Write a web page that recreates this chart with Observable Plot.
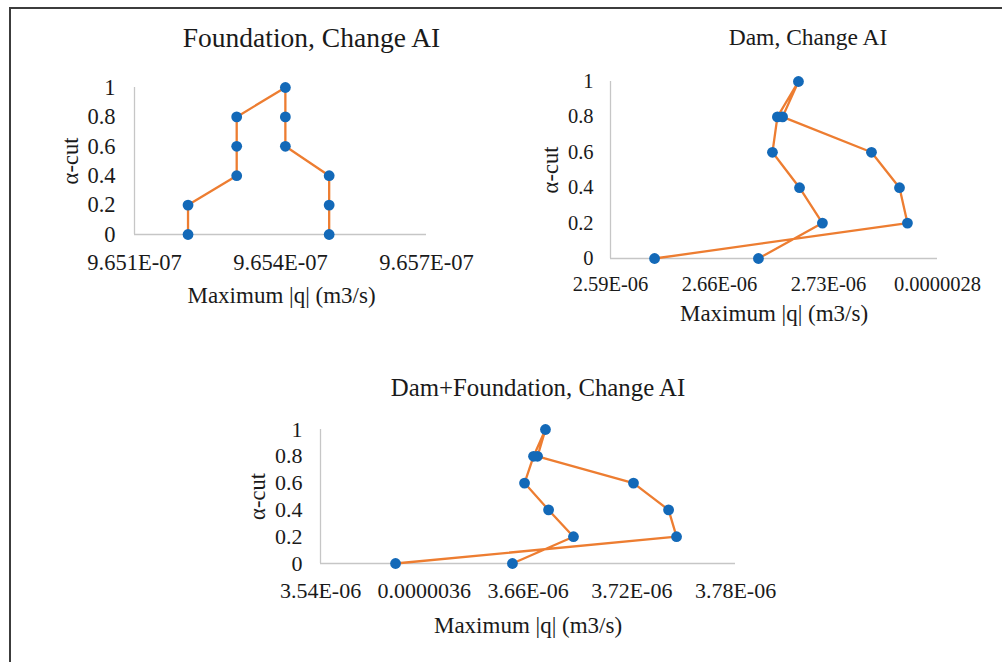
<!DOCTYPE html>
<html>
<head>
<meta charset="utf-8">
<script src="https://cdn.jsdelivr.net/npm/d3@7"></script>
<script src="https://cdn.jsdelivr.net/npm/@observablehq/plot@0.6"></script>
<style>
  html, body { margin: 0; padding: 0; background: #fff; width: 1002px; height: 662px; overflow: hidden; font-family: "Liberation Serif", serif; }
  #frame { position: absolute; left: 9px; top: 7px; width: 1100px; height: 800px; border-left: 2.5px solid #3c3c3c; border-top: 2.5px solid #3c3c3c; }
  .chart { position: absolute; }
  .chart svg, .chart svg text { font-family: "Liberation Serif", serif !important; }
</style>
</head>
<body>
<div id="frame"></div>
<div id="c1" class="chart" style="left:0;top:0"></div>
<div id="c2" class="chart" style="left:500px;top:0"></div>
<div id="c3" class="chart" style="left:0;top:340px"></div>
<script>
// ---- data ----
const alphaPath = [0, 0.2, 0.4, 0.6, 0.8, 1, 0.8, 0.6, 0.4, 0.2, 0];
const yTicks = [0, 0.2, 0.4, 0.6, 0.8, 1];
const yTickLabels = ["0", "0.2", "0.4", "0.6", "0.8", "1"];

// Foundation, Change AI
const foundationQ = [9.6521e-7, 9.6521e-7, 9.6531e-7, 9.6531e-7, 9.6531e-7, 9.6541e-7, 9.6541e-7, 9.6541e-7, 9.6550e-7, 9.6550e-7, 9.6550e-7];
const foundationTicks = [9.651e-7, 9.654e-7, 9.657e-7];
const foundationTickLabels = ["9.651E-07", "9.654E-07", "9.657E-07"];

// Dam, Change AI
const damQ = [2.6183e-6, 2.7807e-6, 2.7756e-6, 2.7576e-6, 2.7005e-6, 2.7107e-6, 2.6972e-6, 2.6940e-6, 2.7114e-6, 2.7261e-6, 2.6850e-6];
const damTicks = [2.59e-6, 2.66e-6, 2.73e-6, 2.80e-6];
const damTickLabels = ["2.59E-06", "2.66E-06", "2.73E-06", "0.0000028"];

// Dam+Foundation, Change AI
const bothQ = [3.5834e-6, 3.7459e-6, 3.7413e-6, 3.7210e-6, 3.6655e-6, 3.6701e-6, 3.6632e-6, 3.6580e-6, 3.6719e-6, 3.6863e-6, 3.6510e-6];
const bothTicks = [3.54e-6, 3.60e-6, 3.66e-6, 3.72e-6, 3.78e-6];
const bothTickLabels = ["3.54E-06", "0.0000036", "3.66E-06", "3.72E-06", "3.78E-06"];

const titles = ["Foundation, Change AI", "Dam, Change AI", "Dam+Foundation, Change AI"];
const xLabel = "Maximum |q| (m3/s)";
const yLabel = "α-cut";

// ---- drawing ----
const BLUE = "#1369b8";
const ORANGE = "#ed7d31";
const AXIS = "#c6c6c6";
const TEXT = "#1a1a1a";
const FONT = "Liberation Serif";

function makeChart(o) {
  const data = o.q.map((q, i) => ({q, a: alphaPath[i]}));
  const xMap = new Map(o.ticks.map((t, i) => [t, o.tickLabels[i]]));
  const yMap = new Map(yTicks.map((t, i) => [t, yTickLabels[i]]));
  const centered = {textAnchor: "middle", lineAnchor: "middle", fontFamily: FONT, fill: TEXT};
  return Plot.plot({
    width: o.width, height: o.height,
    marginLeft: o.ml, marginRight: o.mr, marginTop: o.mt, marginBottom: o.mb,
    style: {background: "transparent", fontFamily: FONT, fontSize: o.tickFont + "px", color: TEXT, overflow: "visible"},
    x: {domain: [o.ticks[0], o.ticks[o.ticks.length - 1]]},
    y: {domain: [0, 1]},
    marks: [
      Plot.ruleY([0], {stroke: AXIS, strokeWidth: 1.3}),
      Plot.ruleX([o.ticks[0]], {stroke: AXIS, strokeWidth: 1.3}),
      Plot.axisX({ticks: o.ticks, tickFormat: d => xMap.get(d), tickSize: 0, tickPadding: o.xPad, label: null, fontSize: o.tickFont, fontFamily: FONT, fontVariant: "normal", fill: TEXT}),
      Plot.axisY({ticks: yTicks, tickFormat: d => yMap.get(d), tickSize: 0, tickPadding: o.yPad, label: null, fontSize: o.tickFont, fontFamily: FONT, fontVariant: "normal", fill: TEXT}),
      Plot.line(data, {x: "q", y: "a", stroke: ORANGE, strokeWidth: 2.3, curve: "linear"}),
      Plot.dot(data, {x: "q", y: "a", r: 5.4, fill: BLUE, stroke: "none"}),
      Plot.text([o.title], {...centered, frameAnchor: "top", dx: o.tdx, dy: o.tdy, fontSize: o.titleFont}),
      Plot.text([xLabel], {...centered, frameAnchor: "bottom", dx: o.xldx, dy: o.xldy, fontSize: 23}),
      Plot.text([yLabel], {...centered, frameAnchor: "left", dx: o.yldx, rotate: -90, fontSize: 22.5})
    ]
  });
}

document.getElementById("c1").appendChild(makeChart({
  q: foundationQ, ticks: foundationTicks, tickLabels: foundationTickLabels, title: titles[0],
  width: 500, height: 340, ml: 134, mr: 74, mt: 87, mb: 106,
  tickFont: 22.5, xPad: 20, yPad: 19, titleFont: 27.5, tdx: 31, tdy: -49, xldx: 1, xldy: 61, yldx: -64
}));
document.getElementById("c2").appendChild(makeChart({
  q: damQ, ticks: damTicks, tickLabels: damTickLabels, title: titles[1],
  width: 502, height: 340, ml: 110, mr: 65, mt: 81, mb: 82,
  tickFont: 20.5, xPad: 18, yPad: 17, titleFont: 23.5, tdx: 34, tdy: -44, xldx: 0, xldy: 55, yldx: -60
}));
document.getElementById("c3").appendChild(makeChart({
  q: bothQ, ticks: bothTicks, tickLabels: bothTickLabels, title: titles[2],
  width: 1002, height: 322, ml: 320, mr: 267, mt: 89, mb: 99,
  tickFont: 22, xPad: 19, yPad: 18, titleFont: 24.8, tdx: 10, tdy: -41, xldx: 0, xldy: 62, yldx: -63
}));
</script>
</body>
</html>
